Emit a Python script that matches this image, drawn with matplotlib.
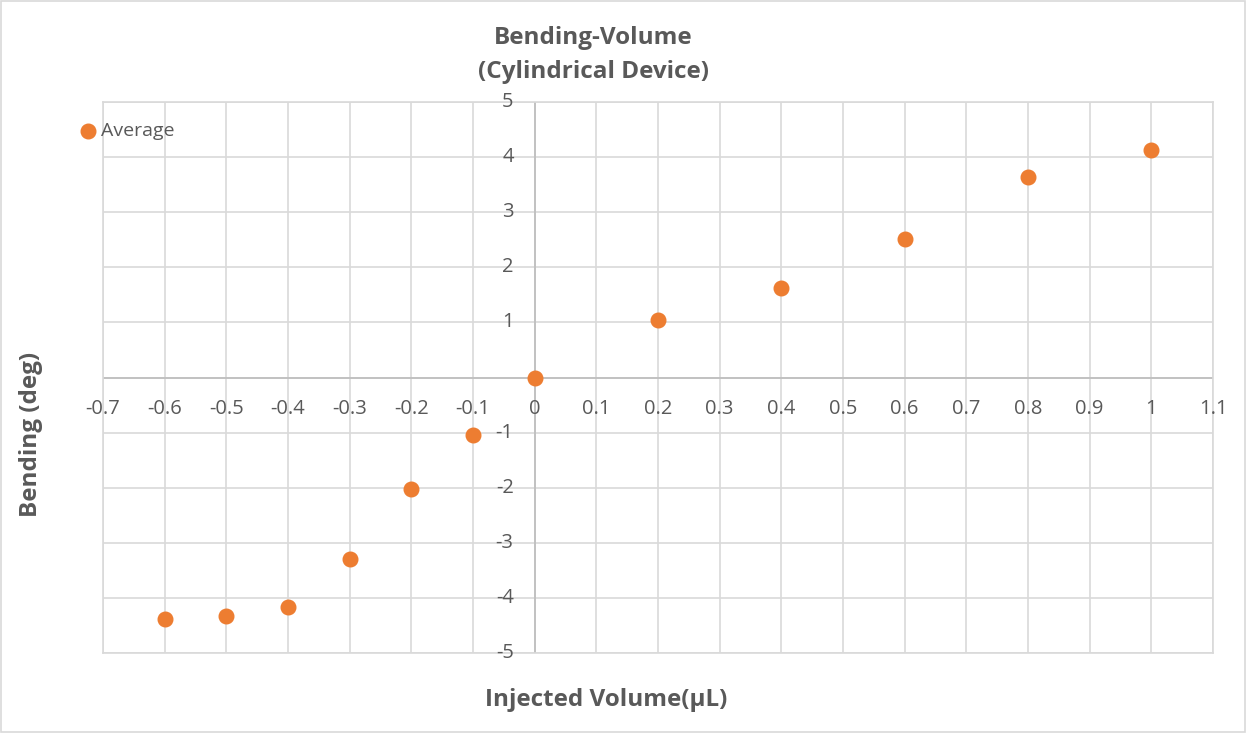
import matplotlib.pyplot as plt
import matplotlib.transforms as mtransforms
import numpy as np

# data
volume = [-0.6, -0.5, -0.4, -0.3, -0.2, -0.1, 0.0, 0.2, 0.4, 0.6, 0.8, 1.0]
bending = [-4.39, -4.33, -4.17, -3.30, -2.02, -1.05, 0.0, 1.05, 1.63, 2.52, 3.63, 4.12]

x_ticks = [-0.7, -0.6, -0.5, -0.4, -0.3, -0.2, -0.1, 0.0, 0.1, 0.2, 0.3, 0.4,
           0.5, 0.6, 0.7, 0.8, 0.9, 1.0, 1.1]
x_labels = ['-0.7', '-0.6', '-0.5', '-0.4', '-0.3', '-0.2', '-0.1', '0', '0.1', '0.2',
            '0.3', '0.4', '0.5', '0.6', '0.7', '0.8', '0.9', '1', '1.1']
y_ticks = [-5, -4, -3, -2, -1, 1, 2, 3, 4, 5]
y_labels = ['-5', '-4', '-3', '-2', '-1', '1', '2', '3', '4', '5']

TEXT = '#595959'
GRID = '#d9d9d9'
ORANGE = '#ED7D31'
plt.rcParams['font.family'] = ['Open Sans', 'DejaVu Sans']

fig = plt.figure(figsize=(12.47, 7.33), dpi=100)

# light border round the whole chart
fig.patches.append(plt.Rectangle((0.001, 0.001), 0.997, 0.997, transform=fig.transFigure,
                                 fill=False, edgecolor=GRID, linewidth=1.2))

ax = fig.add_axes([103 / 1247, 1 - 653 / 733, 1110 / 1247, 551 / 733])
ax.set_xlim(-0.7, 1.1)
ax.set_ylim(-5, 5)
ax.set_xticks(x_ticks)
ax.set_yticks(np.arange(-5, 6, 1))
ax.grid(True, color=GRID, linewidth=1.2)
ax.tick_params(length=0, labelbottom=False, labelleft=False)
for s in ax.spines.values():
    s.set_color(GRID)
    s.set_linewidth(1.2)
ax.set_axisbelow(True)

ax.axhline(0, color='#bfbfbf', linewidth=1.3, zorder=1)
ax.axvline(0, color='#bfbfbf', linewidth=1.3, zorder=1)

ax.plot(volume, bending, 'o', color=ORANGE, markersize=10.5, zorder=3, label='Average')

# tick labels sitting on the zero axes, Excel style
below = mtransforms.offset_copy(ax.transData, fig=fig, x=0, y=-31, units='dots')
for xv, lab in zip(x_ticks, x_labels):
    ax.text(xv, 0, lab, transform=below, ha='center', va='center',
            fontsize=14.5, color=TEXT, clip_on=False)
left = mtransforms.offset_copy(ax.transData, fig=fig, x=-21, y=0, units='dots')
for yv, lab in zip(y_ticks, y_labels):
    ax.text(0, yv, lab, transform=left, ha='right', va='center',
            fontsize=14.5, color=TEXT, clip_on=False)

fig.text(593 / 1247, 1 - 55 / 733, 'Bending-Volume\n(Cylindrical Device)', ha='center',
         va='center', fontsize=17.5, fontweight='bold', color=TEXT, linespacing=1.5)
fig.text(606 / 1247, 1 - 700 / 733, 'Injected Volume(μL)', ha='center', va='center',
         fontsize=17.5, fontweight='bold', color=TEXT)
fig.text(31 / 1247, 1 - 434 / 733, 'Bending (deg)', ha='center', va='center',
         rotation=90, fontsize=17.5, fontweight='bold', color=TEXT)

# legend entry at top left
fig.lines.append(plt.Line2D([88 / 1247], [1 - 131 / 733], marker='o', color=ORANGE,
                            markersize=10.5, linestyle='none', transform=fig.transFigure))
fig.text(101 / 1247, 1 - 131 / 733, 'Average', ha='left', va='center',
         fontsize=14, color=TEXT)

fig.savefig('out.png', dpi=100)
